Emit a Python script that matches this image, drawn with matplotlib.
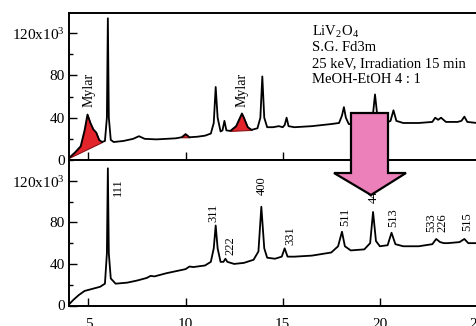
import matplotlib
matplotlib.use('Agg')
import matplotlib.pyplot as plt
from matplotlib.patches import Polygon
from matplotlib.ticker import MultipleLocator

plt.rcParams['font.family'] = ['Liberation Serif', 'DejaVu Serif']
plt.rcParams['mathtext.fontset'] = 'stix'

# upper pattern (x = 2theta, y in 10^3 counts)
top_x = [4.0, 4.3, 4.6, 4.8, 4.95, 5.1, 5.25, 5.4, 5.55, 5.7, 5.85, 5.95, 6.0, 6.05,
         6.15, 6.3, 6.8, 7.3, 7.6, 7.9, 8.5, 9.0, 9.5, 9.8, 10.0, 10.2, 10.6, 11.0,
         11.3, 11.45, 11.55, 11.65, 11.8, 11.9, 12.0, 12.1, 12.3, 12.6, 12.8, 12.9,
         13.0, 13.2, 13.4, 13.7, 13.85, 13.95, 14.05, 14.2, 14.5, 14.8, 15.0, 15.1,
         15.2, 15.3, 15.6, 16.5, 17.5, 17.9, 18.05, 18.15, 18.25, 18.4, 19.0, 19.5,
         19.65, 19.75, 19.85, 20.0, 20.3, 20.55, 20.7, 20.85, 21.2, 22.0, 22.7, 22.85,
         23.0, 23.15, 23.4, 24.0, 24.2, 24.35, 24.5, 25.0]
top_y = [2, 7, 13, 28, 43, 35, 29, 26, 19, 17, 18, 40, 134, 40,
         19, 17, 18, 20, 22.5, 20, 19.5, 20, 20.5, 21.5, 24.5, 21.5, 22, 23,
         25, 35, 69, 40, 27, 28, 37, 28, 27.5, 32, 40, 44,
         40, 31, 28.5, 30, 40, 79, 40, 31, 31, 32, 31, 33,
         40, 32, 31, 32, 34, 35, 42, 50, 40, 34, 34, 35,
         44, 62, 45, 36, 35, 37, 47, 37, 35, 35, 36, 40,
         38, 40, 36, 36, 37, 41, 36, 35]

# Mylar contributions (filled red): x range and straight base line ends
mylar_regions = [(4.0, 5.7, 2, 17), (9.8, 10.2, 21.5, 21.5), (12.3, 13.4, 27.5, 28.5)]

# lower pattern
bot_x = [4.0, 4.2, 4.5, 4.8, 5.2, 5.6, 5.85, 5.95, 6.0, 6.05, 6.15, 6.4, 7.0, 7.5,
         8.0, 8.2, 8.4, 9.0, 9.5, 10.0, 10.2, 10.4, 11.0, 11.3, 11.45, 11.55, 11.65,
         11.8, 11.95, 12.05, 12.15, 12.5, 13.0, 13.5, 13.75, 13.9, 14.05, 14.2, 14.6,
         14.95, 15.1, 15.25, 15.6, 16.5, 17.5, 17.85, 18.05, 18.2, 18.5, 19.2, 19.5,
         19.65, 19.8, 20.0, 20.4, 20.6, 20.8, 21.2, 22.0, 22.7, 22.9, 23.1, 23.3,
         23.5, 24.1, 24.35, 24.55, 25.0]
bot_y = [1, 5, 10, 14, 16, 18, 21, 50, 132, 50, 26, 21, 22, 24,
         26.5, 28.5, 28, 31, 33, 35, 37.5, 37, 38.5, 42, 55, 77, 55,
         42, 42, 45, 42, 40, 41, 44, 52, 95, 55, 46, 45,
         47, 55, 47, 47, 48, 51, 57, 71, 57, 53, 54, 60,
         90, 62, 57, 58, 70, 59, 57, 57, 59, 64, 61, 60,
         60, 61, 64, 60, 60]

hkl_labels = ['111', '311', '222', '400', '331', '511', '440', '513', '533', '226', '515']
hkl_x = [6.5, 11.45, 12.3, 13.9, 15.4, 18.2, 19.7, 20.7, 22.65, 23.22, 24.5]
hkl_y = [114, 89, 58, 115, 67, 85, 108, 85, 80, 80, 81]

info_lines = [r'LiV$_\mathregular{2}$O$_\mathregular{4}$', 'S.G. Fd3m',
              '25 keV, Irradiation 15 min', 'MeOH-EtOH 4 : 1']
info_y = [121, 106.5, 91.5, 76.5]

yticks = [0, 40, 80, 120]
ytick_labels = ['0', '40', '80', r'120x10$^\mathregular{3}$']

fig = plt.figure(figsize=(4.76, 3.26), dpi=100)
ax1 = fig.add_axes([69 / 476, 1 - 160 / 326, 408 / 476, 147 / 326])
ax2 = fig.add_axes([69 / 476, 1 - 305.5 / 326, 408 / 476, 145.5 / 326])

for ax, ytop in [(ax1, 139), (ax2, 140)]:
    ax.set_xlim(4, 25)
    ax.set_ylim(0, ytop)
    ax.set_yticks(yticks)
    ax.set_yticklabels(ytick_labels)
    ax.yaxis.set_minor_locator(MultipleLocator(20))
    ax.set_xticks([5, 10, 15, 20, 25])
    ax.tick_params(direction='in', which='major', length=6, width=1, labelsize=11, pad=3)
    ax.tick_params(direction='in', which='minor', length=3, width=1)
    ax.tick_params(axis='x', which='both', top=False)
    ax.tick_params(axis='y', which='both', right=False)
    for sp in ax.spines.values():
        sp.set_linewidth(1.4)

ax1.tick_params(axis='x', labelbottom=False)
ax2.tick_params(axis='x', pad=9)

# top pattern with Mylar contributions
ax1.plot(top_x, top_y, color='black', lw=1.3, zorder=3)
for x0, x1, b0, b1 in mylar_regions:
    xs = [x for x in top_x if x0 <= x <= x1]
    ys = [y for x, y in zip(top_x, top_y) if x0 <= x <= x1]
    base = [b0 + (b1 - b0) * (x - x0) / (x1 - x0) for x in xs]
    ax1.fill_between(xs, base, ys, color='#e3242b', edgecolor='#8a1015', lw=0.8, zorder=2)

ax1.text(5.05, 66, 'Mylar', rotation=90, ha='center', va='center', fontsize=10)
ax1.text(12.9, 66, 'Mylar', rotation=90, ha='center', va='center', fontsize=10)
for line, y in zip(info_lines, info_y):
    ax1.text(16.5, y, line, ha='left', va='center', fontsize=10.5)

# bottom pattern with indices
ax2.plot(bot_x, bot_y, color='black', lw=1.3)
for lab, x, y in zip(hkl_labels, hkl_x, hkl_y):
    ax2.text(x, y, lab, rotation=90, ha='center', va='center', fontsize=9)

# pink arrow spanning both panels (pixel positions of the reference)
px = [351, 388, 388, 406, 371, 334, 351]
py = [113, 113, 173, 173, 195, 173, 173]
arrow = Polygon([(x / 100, (326 - y) / 100) for x, y in zip(px, py)], closed=True,
                transform=fig.dpi_scale_trans, facecolor='#ec80ba',
                edgecolor='black', lw=1.6, zorder=10)
fig.add_artist(arrow)

fig.savefig('out.png', dpi=100)
